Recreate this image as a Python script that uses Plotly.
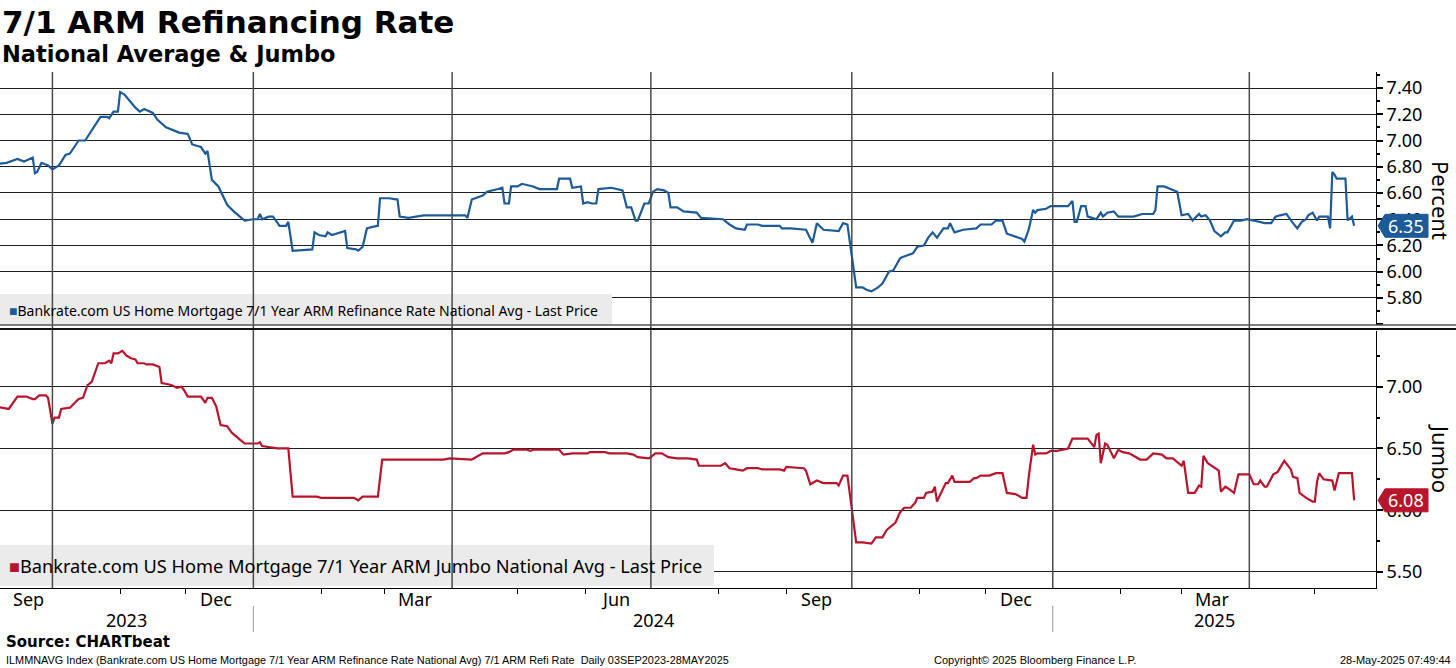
import plotly.graph_objects as go
import pandas as pd

# ---------------- data ----------------
title_text = "7/1 ARM Refinancing Rate"
subtitle_text = "National Average & Jumbo"
nat_name = "Bankrate.com US Home Mortgage 7/1 Year ARM Refinance Rate National Avg - Last Price"
jumbo_name = "Bankrate.com US Home Mortgage 7/1 Year ARM Jumbo National Avg - Last Price"

nat_dates = [
    "2023-09-05", "2023-09-10", "2023-09-15", "2023-09-18", "2023-09-22", "2023-09-23", "2023-09-24", "2023-09-26",
    "2023-09-29", "2023-10-01", "2023-10-04", "2023-10-07", "2023-10-09", "2023-10-13", "2023-10-16", "2023-10-19",
    "2023-10-23", "2023-10-26", "2023-10-27", "2023-10-29", "2023-10-31", "2023-11-01", "2023-11-03", "2023-11-06",
    "2023-11-08", "2023-11-10", "2023-11-12", "2023-11-16", "2023-11-18", "2023-11-22", "2023-11-25", "2023-11-28",
    "2023-12-02", "2023-12-04", "2023-12-08", "2023-12-10", "2023-12-11", "2023-12-13", "2023-12-16", "2023-12-18",
    "2023-12-20", "2023-12-23", "2023-12-26", "2023-12-28", "2024-01-01", "2024-01-03", "2024-01-04", "2024-01-05",
    "2024-01-08", "2024-01-10", "2024-01-13", "2024-01-16", "2024-01-17", "2024-01-19", "2024-01-28", "2024-01-29",
    "2024-01-31", "2024-02-03", "2024-02-04", "2024-02-06", "2024-02-12", "2024-02-13", "2024-02-17", "2024-02-18",
    "2024-02-20", "2024-02-22", "2024-02-24", "2024-02-27", "2024-02-28", "2024-03-03", "2024-03-07", "2024-03-08",
    "2024-03-12", "2024-03-15", "2024-03-19", "2024-03-31", "2024-04-07", "2024-04-08", "2024-04-10", "2024-04-15",
    "2024-04-17", "2024-04-22", "2024-04-24", "2024-04-25", "2024-04-27", "2024-04-28", "2024-05-01", "2024-05-03",
    "2024-05-08", "2024-05-11", "2024-05-19", "2024-05-20", "2024-05-25", "2024-05-26", "2024-05-30", "2024-05-31",
    "2024-06-02", "2024-06-04", "2024-06-06", "2024-06-07", "2024-06-11", "2024-06-13", "2024-06-18", "2024-06-20",
    "2024-06-22", "2024-06-24", "2024-06-25", "2024-06-28", "2024-06-30", "2024-07-02", "2024-07-04", "2024-07-07",
    "2024-07-09", "2024-07-10", "2024-07-13", "2024-07-16", "2024-07-22", "2024-07-24", "2024-08-03", "2024-08-06",
    "2024-08-09", "2024-08-13", "2024-08-14", "2024-08-19", "2024-08-21", "2024-08-29", "2024-08-30", "2024-09-03",
    "2024-09-10", "2024-09-13", "2024-09-15", "2024-09-18", "2024-09-25", "2024-09-27", "2024-09-29", "2024-09-30",
    "2024-10-02", "2024-10-03", "2024-10-06", "2024-10-08", "2024-10-10", "2024-10-13", "2024-10-15", "2024-10-18",
    "2024-10-20", "2024-10-23", "2024-10-24", "2024-10-29", "2024-10-31", "2024-11-03", "2024-11-05", "2024-11-07",
    "2024-11-09", "2024-11-12", "2024-11-14", "2024-11-15", "2024-11-17", "2024-11-21", "2024-11-27", "2024-11-29",
    "2024-12-02", "2024-12-04", "2024-12-06", "2024-12-09", "2024-12-11", "2024-12-15", "2024-12-18", "2024-12-19",
    "2024-12-21", "2024-12-23", "2024-12-24", "2024-12-25", "2024-12-29", "2024-12-31", "2025-01-08", "2025-01-10",
    "2025-01-11", "2025-01-12", "2025-01-14", "2025-01-16", "2025-01-17", "2025-01-19", "2025-01-21", "2025-01-23",
    "2025-01-24", "2025-01-26", "2025-01-29", "2025-01-31", "2025-02-07", "2025-02-11", "2025-02-16", "2025-02-17",
    "2025-02-18", "2025-02-21", "2025-02-25", "2025-02-27", "2025-03-01", "2025-03-04", "2025-03-06", "2025-03-09",
    "2025-03-10", "2025-03-12", "2025-03-14", "2025-03-16", "2025-03-19", "2025-03-21", "2025-03-22", "2025-03-25",
    "2025-03-28", "2025-03-31", "2025-04-03", "2025-04-06", "2025-04-08", "2025-04-11", "2025-04-13", "2025-04-15",
    "2025-04-18", "2025-04-21", "2025-04-23", "2025-04-25", "2025-04-27", "2025-04-28", "2025-04-30", "2025-05-02",
    "2025-05-03", "2025-05-07", "2025-05-08", "2025-05-09", "2025-05-10", "2025-05-11", "2025-05-15", "2025-05-16",
    "2025-05-18", "2025-05-19",
]
nat_values = [
    6.82, 6.83, 6.86, 6.84, 6.87, 6.75, 6.76, 6.83,
    6.81, 6.78, 6.81, 6.89, 6.90, 7.00, 7.00, 7.08,
    7.18, 7.18, 7.17, 7.22, 7.22, 7.37, 7.35, 7.29,
    7.25, 7.22, 7.24, 7.21, 7.16, 7.10, 7.08, 7.06,
    7.05, 6.97, 6.95, 6.90, 6.92, 6.70, 6.65, 6.58,
    6.51, 6.46, 6.42, 6.39, 6.40, 6.40, 6.44, 6.40,
    6.42, 6.42, 6.35, 6.35, 6.38, 6.16, 6.17, 6.30,
    6.28, 6.27, 6.30, 6.28, 6.31, 6.18, 6.17, 6.16,
    6.19, 6.33, 6.34, 6.35, 6.56, 6.56, 6.55, 6.42,
    6.41, 6.42, 6.43, 6.43, 6.43, 6.41, 6.55, 6.58,
    6.61, 6.63, 6.64, 6.52, 6.52, 6.65, 6.65, 6.67,
    6.65, 6.63, 6.63, 6.71, 6.71, 6.64, 6.65, 6.52,
    6.53, 6.52, 6.52, 6.63, 6.64, 6.64, 6.62, 6.49,
    6.49, 6.39, 6.39, 6.52, 6.52, 6.61, 6.63, 6.62,
    6.60, 6.49, 6.49, 6.46, 6.45, 6.41, 6.40, 6.36,
    6.33, 6.32, 6.36, 6.36, 6.35, 6.35, 6.33, 6.33,
    6.32, 6.22, 6.37, 6.32, 6.31, 6.37, 6.36, 6.23,
    6.01, 5.88, 5.88, 5.86, 5.85, 5.88, 5.91, 6.00,
    6.01, 6.10, 6.11, 6.14, 6.19, 6.20, 6.26, 6.30,
    6.26, 6.33, 6.33, 6.37, 6.30, 6.32, 6.33, 6.36,
    6.36, 6.36, 6.39, 6.39, 6.29, 6.27, 6.25, 6.23,
    6.32, 6.47, 6.45, 6.47, 6.48, 6.50, 6.50, 6.54,
    6.38, 6.38, 6.50, 6.50, 6.42, 6.41, 6.40, 6.45,
    6.42, 6.45, 6.46, 6.42, 6.42, 6.44, 6.44, 6.47,
    6.65, 6.65, 6.62, 6.61, 6.43, 6.44, 6.39, 6.44,
    6.42, 6.43, 6.39, 6.31, 6.27, 6.30, 6.30, 6.39,
    6.39, 6.40, 6.39, 6.38, 6.37, 6.37, 6.42, 6.43,
    6.44, 6.37, 6.33, 6.38, 6.40, 6.43, 6.45, 6.39,
    6.42, 6.42, 6.33, 6.76, 6.74, 6.71, 6.71, 6.39,
    6.42, 6.35,
]

jumbo_dates = [
    "2023-09-05", "2023-09-11", "2023-09-15", "2023-09-19", "2023-09-22", "2023-09-23", "2023-09-25", "2023-09-28",
    "2023-09-29", "2023-10-01", "2023-10-02", "2023-10-04", "2023-10-05", "2023-10-09", "2023-10-13", "2023-10-15",
    "2023-10-17", "2023-10-19", "2023-10-22", "2023-10-25", "2023-10-27", "2023-10-28", "2023-10-29", "2023-10-31",
    "2023-11-02", "2023-11-04", "2023-11-06", "2023-11-08", "2023-11-09", "2023-11-12", "2023-11-13", "2023-11-16",
    "2023-11-19", "2023-11-20", "2023-11-23", "2023-11-25", "2023-11-27", "2023-11-29", "2023-11-30", "2023-12-02",
    "2023-12-08", "2023-12-10", "2023-12-11", "2023-12-13", "2023-12-15", "2023-12-17", "2023-12-20", "2023-12-22",
    "2023-12-26", "2023-12-28", "2024-01-03", "2024-01-04", "2024-01-05", "2024-01-10", "2024-01-12", "2024-01-17",
    "2024-01-19", "2024-01-30", "2024-02-01", "2024-02-14", "2024-02-16", "2024-02-18", "2024-02-20", "2024-02-27",
    "2024-02-29", "2024-03-07", "2024-03-28", "2024-03-31", "2024-04-10", "2024-04-15", "2024-04-25", "2024-04-27",
    "2024-04-29", "2024-05-05", "2024-05-07", "2024-05-08", "2024-05-20", "2024-05-22", "2024-05-26", "2024-06-02",
    "2024-06-03", "2024-06-10", "2024-06-12", "2024-06-18", "2024-06-20", "2024-06-23", "2024-06-25", "2024-06-30",
    "2024-07-01", "2024-07-03", "2024-07-06", "2024-07-09", "2024-07-13", "2024-07-18", "2024-07-22", "2024-07-23",
    "2024-08-02", "2024-08-04", "2024-08-06", "2024-08-09", "2024-08-12", "2024-08-14", "2024-08-19", "2024-08-21",
    "2024-08-29", "2024-08-31", "2024-09-01", "2024-09-09", "2024-09-10", "2024-09-12", "2024-09-15", "2024-09-18",
    "2024-09-24", "2024-09-25", "2024-09-27", "2024-09-29", "2024-10-03", "2024-10-06", "2024-10-09", "2024-10-10",
    "2024-10-12", "2024-10-15", "2024-10-17", "2024-10-20", "2024-10-21", "2024-10-23", "2024-10-25", "2024-10-28",
    "2024-10-30", "2024-10-31", "2024-11-03", "2024-11-04", "2024-11-07", "2024-11-08", "2024-11-09", "2024-11-13",
    "2024-11-14", "2024-11-16", "2024-11-17", "2024-11-24", "2024-11-26", "2024-11-27", "2024-11-29", "2024-12-03",
    "2024-12-06", "2024-12-09", "2024-12-11", "2024-12-15", "2024-12-18", "2024-12-20", "2024-12-21", "2024-12-23",
    "2024-12-24", "2024-12-25", "2024-12-29", "2024-12-31", "2025-01-03", "2025-01-08", "2025-01-10", "2025-01-17",
    "2025-01-20", "2025-01-21", "2025-01-22", "2025-01-23", "2025-01-25", "2025-01-26", "2025-01-29", "2025-01-31",
    "2025-02-02", "2025-02-05", "2025-02-07", "2025-02-10", "2025-02-13", "2025-02-16", "2025-02-20", "2025-02-22",
    "2025-02-25", "2025-02-27", "2025-03-01", "2025-03-02", "2025-03-04", "2025-03-07", "2025-03-09", "2025-03-10",
    "2025-03-11", "2025-03-13", "2025-03-16", "2025-03-18", "2025-03-19", "2025-03-21", "2025-03-22", "2025-03-25",
    "2025-03-27", "2025-04-01", "2025-04-03", "2025-04-05", "2025-04-06", "2025-04-08", "2025-04-09", "2025-04-12",
    "2025-04-14", "2025-04-17", "2025-04-20", "2025-04-21", "2025-04-23", "2025-04-24", "2025-04-27", "2025-04-30",
    "2025-05-01", "2025-05-02", "2025-05-03", "2025-05-05", "2025-05-09", "2025-05-10", "2025-05-12", "2025-05-18",
    "2025-05-19",
]
jumbo_values = [
    6.84, 6.82, 6.92, 6.92, 6.90, 6.90, 6.93, 6.93,
    6.91, 6.70, 6.75, 6.75, 6.82, 6.83, 6.90, 6.91,
    7.01, 7.04, 7.19, 7.19, 7.21, 7.19, 7.27, 7.27,
    7.29, 7.25, 7.23, 7.22, 7.19, 7.19, 7.18, 7.18,
    7.16, 7.03, 7.02, 7.01, 6.99, 7.00, 6.98, 6.92,
    6.92, 6.87, 6.91, 6.91, 6.84, 6.69, 6.68, 6.63,
    6.57, 6.54, 6.54, 6.55, 6.52, 6.51, 6.50, 6.50,
    6.11, 6.11, 6.10, 6.10, 6.10, 6.08, 6.11, 6.11,
    6.41, 6.41, 6.41, 6.42, 6.41, 6.46, 6.46, 6.47,
    6.49, 6.49, 6.48, 6.49, 6.49, 6.45, 6.46, 6.46,
    6.47, 6.47, 6.46, 6.46, 6.46, 6.45, 6.43, 6.42,
    6.43, 6.46, 6.46, 6.43, 6.42, 6.42, 6.41, 6.36,
    6.36, 6.38, 6.34, 6.33, 6.32, 6.34, 6.34, 6.33,
    6.33, 6.32, 6.35, 6.34, 6.32, 6.21, 6.24, 6.22,
    6.22, 6.20, 6.28, 6.28, 5.74, 5.74, 5.73, 5.73,
    5.78, 5.78, 5.84, 5.89, 5.90, 5.98, 6.02, 6.02,
    6.06, 6.10, 6.10, 6.14, 6.15, 6.19, 6.07, 6.22,
    6.22, 6.28, 6.23, 6.23, 6.26, 6.26, 6.28, 6.28,
    6.30, 6.30, 6.14, 6.13, 6.10, 6.10, 6.27, 6.53,
    6.45, 6.46, 6.46, 6.48, 6.48, 6.50, 6.58, 6.58,
    6.51, 6.61, 6.62, 6.38, 6.54, 6.53, 6.42, 6.49,
    6.47, 6.46, 6.44, 6.41, 6.41, 6.46, 6.45, 6.42,
    6.42, 6.39, 6.36, 6.40, 6.14, 6.14, 6.20, 6.19,
    6.44, 6.38, 6.34, 6.32, 6.15, 6.19, 6.18, 6.14,
    6.29, 6.29, 6.21, 6.21, 6.24, 6.19, 6.19, 6.29,
    6.31, 6.40, 6.33, 6.27, 6.26, 6.14, 6.10, 6.07,
    6.07, 6.23, 6.30, 6.25, 6.24, 6.16, 6.30, 6.30,
    6.08,
]

x_range = ["2023-09-07", "2025-05-29"]
quarter_starts = ["2023-10-01", "2024-01-01", "2024-04-01", "2024-07-01", "2024-10-01", "2025-01-01", "2025-04-01"]
month_label_dates = ["2023-09-20", "2023-12-15", "2024-03-15", "2024-06-15", "2024-09-15", "2024-12-15", "2025-03-15"]
month_labels = ["Sep", "Dec", "Mar", "Jun", "Sep", "Dec", "Mar"]
years = [2023, 2024, 2025]

top_tickvals = [5.6, 5.8, 6.0, 6.2, 6.4, 6.6, 6.8, 7.0, 7.2, 7.4]
top_ticktext = ["", "5.80", "6.00", "6.20", "6.40", "6.60", "6.80", "7.00", "7.20", "7.40"]
bot_tickvals = [5.5, 6.0, 6.5, 7.0]
bot_ticktext = ["5.50", "6.00", "6.50", "7.00"]

footer_left = "ILMMNAVG Index (Bankrate.com US Home Mortgage 7/1 Year ARM Refinance Rate National Avg) 7/1 ARM Refi Rate  Daily 03SEP2023-28MAY2025"
footer_mid = "Copyright© 2025 Bloomberg Finance L.P."
footer_right = "28-May-2025 07:49:44"
source_text = "Source: CHARTbeat"

# ---------------- style ----------------
BLUE = "#1d5a98"
RED = "#b8142c"
FONT = "Noto Sans"
FOOT_FONT = "Liberation Sans Narrow, Liberation Sans"
W, H = 1456, 668
ML, MR, MT, MB = 0, 80, 72, 80
PW = W - ML - MR           # plot width px
PH = H - MT - MB           # plot height px


def py(ypx):
    """pixel row -> paper y"""
    return (H - MB - ypx) / PH


def px(xpx):
    return (xpx - ML) / PW


fig = go.Figure()
fig.add_trace(go.Scatter(x=nat_dates, y=nat_values, mode="lines", line=dict(color=BLUE, width=2.2),
                         xaxis="x", yaxis="y", showlegend=False, hoverinfo="skip"))
fig.add_trace(go.Scatter(x=jumbo_dates, y=jumbo_values, mode="lines", line=dict(color=RED, width=2.2),
                         xaxis="x2", yaxis="y2", showlegend=False, hoverinfo="skip"))

tickfont = dict(family=FONT, size=18, color="black")

fig.update_layout(
    width=W, height=H, margin=dict(l=ML, r=MR, t=MT, b=MB),
    paper_bgcolor="white", plot_bgcolor="white", showlegend=False,
    xaxis=dict(domain=[0, 1], anchor="y", type="date", range=x_range, matches="x2",
               showticklabels=False, showgrid=False, zeroline=False, ticks="", showline=False),
    yaxis=dict(domain=[py(325), 1], anchor="x", side="right", range=[5.594, 7.522],
               tickmode="array", tickvals=top_tickvals, ticktext=top_ticktext,
               showgrid=True, gridcolor="#1e1e1e", gridwidth=1, zeroline=False,
               ticks="outside", ticklen=6, tickwidth=1.5, tickcolor="black",
               showline=True, linecolor="black", linewidth=1,
               minor=dict(dtick=0.1, tick0=5.5, ticks="outside", ticklen=3, tickcolor="black", showgrid=False),
               tickfont=tickfont),
    xaxis2=dict(domain=[0, 1], anchor="y2", type="date", range=x_range,
                showticklabels=False, ticks="",
                showgrid=False, zeroline=False, showline=True, linecolor="black", linewidth=1,
                minor=dict(dtick="M1", tick0="2023-09-01", ticks="outside", ticklen=5, tickcolor="black",
                           showgrid=False)),
    yaxis2=dict(domain=[0, py(331)], anchor="x2", side="right", range=[5.370, 7.451],
                tickmode="array", tickvals=bot_tickvals, ticktext=bot_ticktext,
                showgrid=True, gridcolor="#1e1e1e", gridwidth=1, zeroline=False,
                ticks="outside", ticklen=6, tickwidth=1.5, tickcolor="black",
                showline=True, linecolor="black", linewidth=1,
                minor=dict(dtick=0.25, tick0=5.25, ticks="outside", ticklen=3, tickcolor="black", showgrid=False),
                tickfont=tickfont),
)

shapes = []
# legend boxes (drawn above the grid)
shapes.append(dict(type="rect", xref="paper", yref="paper", x0=0, x1=px(612), y0=py(325), y1=py(294),
                   fillcolor="#ebebeb", line=dict(width=0), layer="above"))
shapes.append(dict(type="rect", xref="paper", yref="paper", x0=0, x1=px(714), y0=py(586), y1=py(545),
                   fillcolor="#ebebeb", line=dict(width=0), layer="above"))
# vertical quarter gridlines
for d in quarter_starts:
    shapes.append(dict(type="line", xref="x2", yref="paper", x0=d, x1=d, y0=0, y1=1,
                       line=dict(color="#4a4a4a", width=1.5), layer="above"))
# panel separator (double line)
shapes.append(dict(type="line", xref="paper", yref="paper", x0=0, x1=W / PW, y0=py(325), y1=py(325),
                   line=dict(color="#555555", width=1.6)))
shapes.append(dict(type="line", xref="paper", yref="paper", x0=0, x1=W / PW, y0=py(329), y1=py(329),
                   line=dict(color="#111111", width=1.8)))
# year separators in the date axis
for yr in years[1:]:
    d = f"{yr}-01-01"
    shapes.append(dict(type="line", xref="x2", yref="paper", x0=d, x1=d, y0=py(606), y1=py(632),
                       line=dict(color="#9a9a9a", width=1)))


# last value tags
def tag(yref, value, color, half_units):
    tip, left, right = px(1378), px(1385), px(1428)
    path = (f"M {tip},{value} L {left},{value + half_units} L {right},{value + half_units} "
            f"L {right},{value - half_units} L {left},{value - half_units} Z")
    shapes.append(dict(type="path", xref="paper", yref=yref, path=path, fillcolor=color,
                       line=dict(color=color, width=1), layer="above"))
    return dict(x=px(1406), y=value, xref="paper", yref=yref, text=f"{value:.2f}", showarrow=False,
                xanchor="center", yanchor="middle", font=dict(family=FONT, size=18, color="white"))


annotations = []
annotations.append(tag("y", nat_values[-1], BLUE, 11.5 / 131.25))
annotations.append(tag("y2", jumbo_values[-1], RED, 11.5 / 123.5))

# titles
annotations.append(dict(x=0, y=py(22), xref="paper", yref="paper", text=f"<b>{title_text}</b>",
                        showarrow=False, xanchor="left", yanchor="middle",
                        font=dict(family="DejaVu Sans", size=31, color="black")))
annotations.append(dict(x=0, y=py(54), xref="paper", yref="paper", text=f"<b>{subtitle_text}</b>",
                        showarrow=False, xanchor="left", yanchor="middle",
                        font=dict(family="DejaVu Sans", size=22.5, color="black")))
# legend texts
annotations.append(dict(x=px(7), y=py(310), xref="paper", yref="paper",
                        text=f"<span style='color:{BLUE}'>■</span>{nat_name}",
                        showarrow=False, xanchor="left", yanchor="middle",
                        font=dict(family=FONT, size=14, color="black")))
annotations.append(dict(x=px(7), y=py(566), xref="paper", yref="paper",
                        text=f"<span style='color:{RED}'>■</span>{jumbo_name}",
                        showarrow=False, xanchor="left", yanchor="middle",
                        font=dict(family=FONT, size=18.2, color="black")))
# axis titles
annotations.append(dict(x=px(1441), y=py(200), xref="paper", yref="paper", text="Percent", textangle=90,
                        showarrow=False, xanchor="center", yanchor="middle",
                        font=dict(family=FONT, size=22, color="black")))
annotations.append(dict(x=px(1441), y=py(458), xref="paper", yref="paper", text="Jumbo", textangle=90,
                        showarrow=False, xanchor="center", yanchor="middle",
                        font=dict(family=FONT, size=22, color="black")))
# month labels on the date axis
for d, lab in zip(month_label_dates, month_labels):
    annotations.append(dict(x=d, y=py(599), xref="x2", yref="paper", text=lab, showarrow=False,
                            xanchor="center", yanchor="middle", font=tickfont))
# year labels centred on the visible part of each year
r0, r1 = pd.Timestamp(x_range[0]), pd.Timestamp(x_range[1])
for yr in years:
    a = max(r0, pd.Timestamp(f"{yr}-01-01"))
    b = min(r1, pd.Timestamp(f"{yr + 1}-01-01"))
    mid = a + (b - a) / 2
    annotations.append(dict(x=mid.strftime("%Y-%m-%d %H:%M"), y=py(620), xref="x2", yref="paper",
                            text=str(yr), showarrow=False, xanchor="center", yanchor="middle",
                            font=tickfont))
# footer
annotations.append(dict(x=px(4), y=py(642), xref="paper", yref="paper", text=f"<b>{source_text}</b>",
                        showarrow=False, xanchor="left", yanchor="middle",
                        font=dict(family="DejaVu Sans", size=15, color="black")))
annotations.append(dict(x=px(4), y=py(660), xref="paper", yref="paper", text=footer_left,
                        showarrow=False, xanchor="left", yanchor="middle",
                        font=dict(family=FOOT_FONT, size=10.9, color="black")))
annotations.append(dict(x=px(932), y=py(660), xref="paper", yref="paper", text=footer_mid,
                        showarrow=False, xanchor="left", yanchor="middle",
                        font=dict(family=FOOT_FONT, size=11, color="black")))
annotations.append(dict(x=px(1453), y=py(660), xref="paper", yref="paper", text=footer_right,
                        showarrow=False, xanchor="right", yanchor="middle",
                        font=dict(family=FOOT_FONT, size=11, color="black")))

fig.update_layout(shapes=shapes, annotations=annotations)
fig.write_html("out.html", config={"displayModeBar": False},
               post_script="document.body.style.margin='0';document.body.style.overflow='hidden';")
